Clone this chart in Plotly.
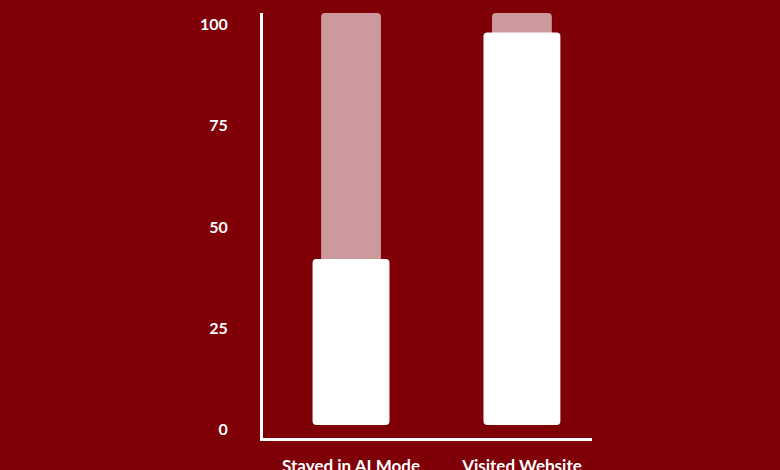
import plotly.graph_objects as go

# ── Data ───────────────────────────────────────────────────────────────────
categories = ["Stayed in AI Mode", "Visited Website"]
share_pct  = [42.1, 97.9]       # white bars
track_pct  = [102.7, 102.7]     # pale "full" track behind each bar
bar_floor  = 1.2                # bars float a little above zero
y_ticks    = [0, 25, 50, 75, 100]

# ── Style ──────────────────────────────────────────────────────────────────
BG    = "#800008"
WHITE = "#ffffff"
FONT  = "Lato, 'Open Sans', sans-serif"

fig = go.Figure()

# background track
fig.add_trace(go.Bar(
    x=categories,
    y=[v - bar_floor for v in track_pct],
    base=bar_floor,
    width=0.35,
    marker=dict(color="rgba(255,255,255,0.6)", cornerradius=4, line=dict(width=0)),
    hoverinfo="skip",
    showlegend=False,
))

# actual values
fig.add_trace(go.Bar(
    x=categories,
    y=[v - bar_floor for v in share_pct],
    base=bar_floor,
    width=0.45,
    marker=dict(color=WHITE, cornerradius=4, line=dict(width=0)),
    hovertemplate="%{x}: %{y:.0f}%<extra></extra>",
    showlegend=False,
))

fig.update_layout(
    width=780,
    height=470,
    barmode="overlay",
    paper_bgcolor=BG,
    plot_bgcolor=BG,
    margin=dict(l=263, r=188, t=13, b=32),
    font=dict(family=FONT, color=WHITE),
    xaxis=dict(
        type="category",
        range=[-0.515, 1.41],
        automargin=False,     # labels sit right at the bottom edge
        showline=True,
        linecolor=WHITE,
        linewidth=3,
        showgrid=False,
        zeroline=False,
        ticks="",
        ticklabelstandoff=11,
        tickfont=dict(size=17, family=FONT, weight="bold", color=WHITE),
    ),
    yaxis=dict(
        range=[-2, 102.7],
        tickvals=y_ticks,
        automargin=False,
        showline=True,
        linecolor=WHITE,
        linewidth=3,
        showgrid=False,
        zeroline=False,
        ticks="",
        ticklabelstandoff=29,
        tickfont=dict(size=16, family=FONT, weight="bold", color=WHITE),
    ),
)

# drop the browser's default body margin so the chart fills the window
fig.write_html(
    "out.html",
    config={"displayModeBar": False},
    post_script="document.body.style.margin='0';document.body.style.overflow='hidden';",
)
